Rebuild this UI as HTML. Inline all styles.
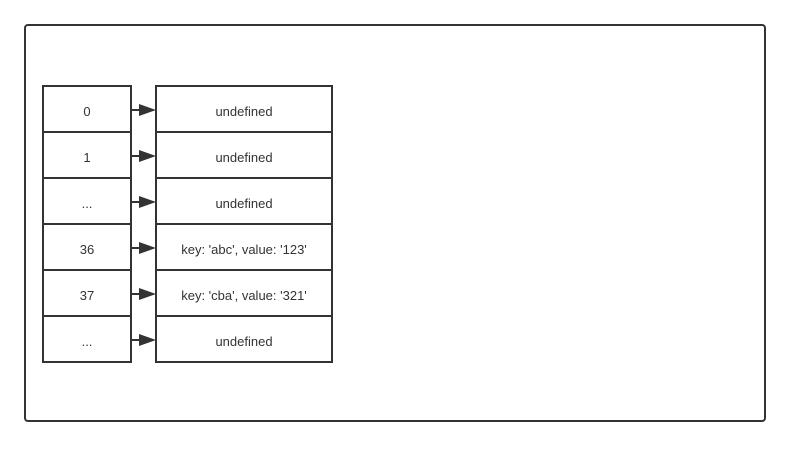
<!DOCTYPE html>
<html><head><style>body{margin:0;background:#fff}</style></head><body>
<svg width="790" height="447" xmlns="http://www.w3.org/2000/svg" font-family="'Liberation Sans',sans-serif" font-size="13" fill="#333">
<rect x="25" y="25" width="740" height="396" rx="3" fill="none" stroke="#333" stroke-width="2"/>
<g stroke="#333" stroke-width="2" fill="none">
<rect x="43" y="86" width="88" height="276"/>
<rect x="156" y="86" width="176" height="276"/>
<path d="M43 132H131M43 178H131M43 224H131M43 270H131M43 316H131M156 132H332M156 178H332M156 224H332M156 270H332M156 316H332"/>
</g>
<g stroke="#333" stroke-width="2">
<path d="M131 110H141M131 156H141M131 202H141M131 248H141M131 294H141M131 340H141"/>
</g>
<g fill="#333">
<path d="M139 104L156 110L139 116Z"/><path d="M139 150L156 156L139 162Z"/><path d="M139 196L156 202L139 208Z"/>
<path d="M139 242L156 248L139 254Z"/><path d="M139 288L156 294L139 300Z"/><path d="M139 334L156 340L139 346Z"/>
</g>
<g text-anchor="middle" fill="#333">
<text x="87" y="116">0</text><text x="87" y="162">1</text><text x="87" y="208">...</text>
<text x="87" y="254">36</text><text x="87" y="300">37</text><text x="87" y="346">...</text>
<text x="244" y="116">undefined</text><text x="244" y="162">undefined</text><text x="244" y="208">undefined</text>
<text x="244" y="254">key: 'abc', value: '123'</text><text x="244" y="300">key: 'cba', value: '321'</text>
<text x="244" y="346">undefined</text>
</g>
</svg>
</body></html>
